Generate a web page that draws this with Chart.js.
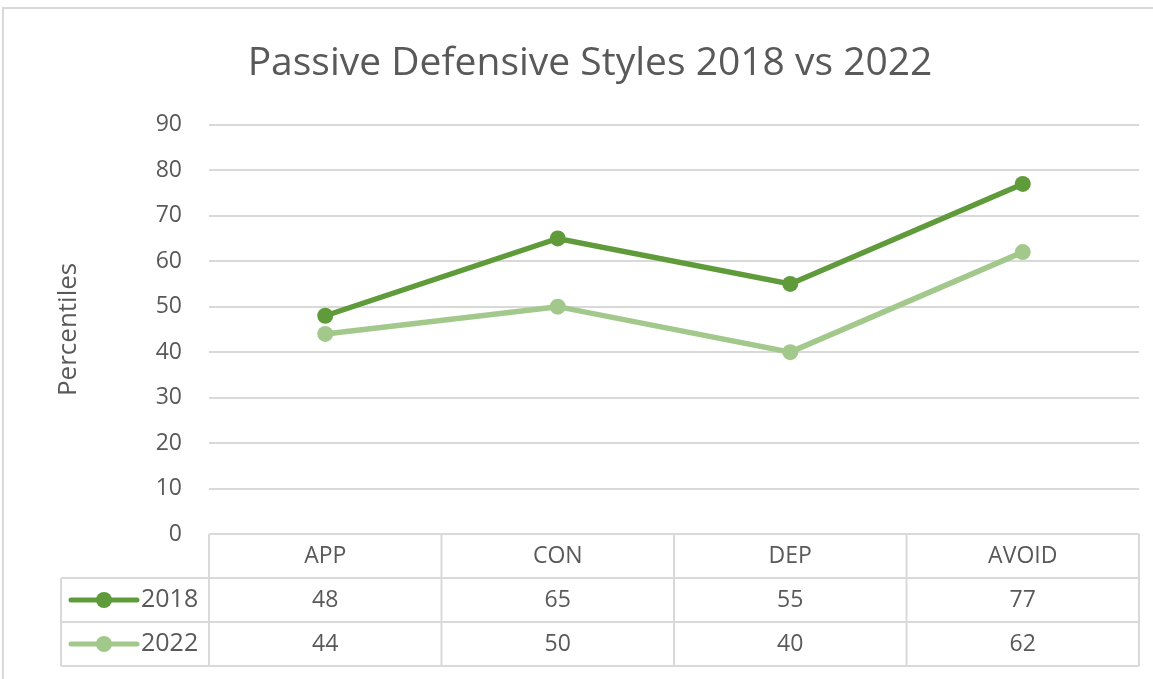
<!DOCTYPE html>
<html>
<head>
<meta charset="utf-8">
<script src="https://cdn.jsdelivr.net/npm/chart.js@4.4.1/dist/chart.umd.min.js"></script>
<style>
    html, body { margin: 0; padding: 0; background: #ffffff; }
    #wrap { width: 1153px; height: 679px; position: relative; }
</style>
</head>
<body>
<div id="wrap"><canvas id="lineChart"></canvas></div>
<script>
const categories = ["APP", "CON", "DEP", "AVOID"];
const seriesLabels = ["2018", "2022"];
const values2018 = [48, 65, 55, 77];
const values2022 = [44, 50, 40, 62];
const yMin = 0;
const yMax = 90;
const yStep = 10;

const theme = {
    text: "#595959",
    grid: "#d9d9d9",
    dark: "#5f9b3a",
    light: "#a3c88c",
    font: "'Open Sans', 'DejaVu Sans', sans-serif"
};

const frameAndBackgroundPlugin = {
    id: "frameAndBackground",
    beforeDraw: function (chart) {
        const ctx = chart.ctx;
        ctx.save();
        ctx.fillStyle = "#ffffff";
        ctx.fillRect(0, 0, chart.width, chart.height);
        ctx.strokeStyle = "#d9d9d9";
        ctx.lineWidth = 2;
        ctx.beginPath();
        ctx.moveTo(3, chart.height);
        ctx.lineTo(3, 8);
        ctx.lineTo(chart.width, 8);
        ctx.stroke();
        ctx.restore();
    }
};

// excel style data table under the plot area
const dataTablePlugin = {
    id: "dataTable",
    afterDraw: function (chart) {
        const ctx = chart.ctx;
        const area = chart.chartArea;
        const xScale = chart.scales.x;
        const rowH = 44;
        const top = area.bottom;
        const legendLeft = 61;

        const edges = [area.left];
        for (let i = 0; i < categories.length - 1; i++) {
            edges.push((xScale.getPixelForValue(i) + xScale.getPixelForValue(i + 1)) / 2);
        }
        edges.push(area.right);

        ctx.save();
        ctx.strokeStyle = theme.grid;
        ctx.lineWidth = 2;
        ctx.beginPath();
        edges.forEach(function (ex) {
            ctx.moveTo(ex, top);
            ctx.lineTo(ex, top + rowH * 3);
        });
        ctx.moveTo(legendLeft, top + rowH);
        ctx.lineTo(legendLeft, top + rowH * 3);
        for (let r = 1; r <= 3; r++) {
            ctx.moveTo(legendLeft, top + rowH * r);
            ctx.lineTo(area.right, top + rowH * r);
        }
        ctx.stroke();

        ctx.fillStyle = theme.text;
        ctx.font = "23px " + theme.font;
        ctx.textAlign = "center";
        ctx.textBaseline = "middle";
        categories.forEach(function (cat, i) {
            ctx.fillText(cat, xScale.getPixelForValue(i), top + rowH / 2);
        });

        chart.data.datasets.forEach(function (ds, r) {
            const cy = top + rowH * (r + 1) + rowH / 2;
            ctx.fillStyle = theme.text;
            ctx.font = "23px " + theme.font;
            ctx.textAlign = "center";
            ds.data.forEach(function (v, i) {
                ctx.fillText(String(v), xScale.getPixelForValue(i), cy);
            });

            ctx.strokeStyle = ds.borderColor;
            ctx.lineWidth = 5;
            ctx.lineCap = "round";
            ctx.beginPath();
            ctx.moveTo(71, cy);
            ctx.lineTo(137, cy);
            ctx.stroke();
            ctx.fillStyle = ds.borderColor;
            ctx.beginPath();
            ctx.arc(104, cy, 8, 0, Math.PI * 2);
            ctx.fill();

            ctx.fillStyle = theme.text;
            ctx.font = "25px " + theme.font;
            ctx.textAlign = "left";
            ctx.fillText(ds.label, 141, cy);
        });
        ctx.restore();
    }
};

new Chart(document.getElementById("lineChart"), {
    type: "line",
    plugins: [frameAndBackgroundPlugin, dataTablePlugin],
    data: {
        labels: categories,
        datasets: [
            {
                label: seriesLabels[0],
                data: values2018,
                borderColor: theme.dark,
                backgroundColor: theme.dark,
                borderWidth: 5.5,
                pointRadius: 8,
                pointBorderWidth: 0,
                tension: 0
            },
            {
                label: seriesLabels[1],
                data: values2022,
                borderColor: theme.light,
                backgroundColor: theme.light,
                borderWidth: 5.5,
                pointRadius: 8,
                pointBorderWidth: 0,
                tension: 0
            }
        ]
    },
    options: {
        responsive: true,
        maintainAspectRatio: false,
        animation: false,
        layout: {
            padding: { top: 0, right: 14, bottom: 145, left: 41 }
        },
        plugins: {
            legend: { display: false },
            tooltip: { enabled: false },
            title: {
                display: true,
                text: "Passive Defensive Styles 2018 vs 2022",
                color: theme.text,
                font: { family: theme.font, size: 39, weight: "normal" },
                padding: { top: 40, bottom: 38 }
            }
        },
        scales: {
            x: {
                display: false,
                offset: true
            },
            y: {
                min: yMin,
                max: yMax,
                afterFit: function (scale) {
                    scale.width = 168;
                },
                ticks: {
                    stepSize: yStep,
                    color: theme.text,
                    padding: 27,
                    font: { family: theme.font, size: 23 }
                },
                grid: {
                    color: theme.grid,
                    lineWidth: 2,
                    drawTicks: false
                },
                border: { display: false },
                title: {
                    display: true,
                    text: "Percentiles",
                    color: theme.text,
                    padding: { top: 12 },
                    font: { family: theme.font, size: 26 }
                }
            }
        }
    }
});
</script>
</body>
</html>
